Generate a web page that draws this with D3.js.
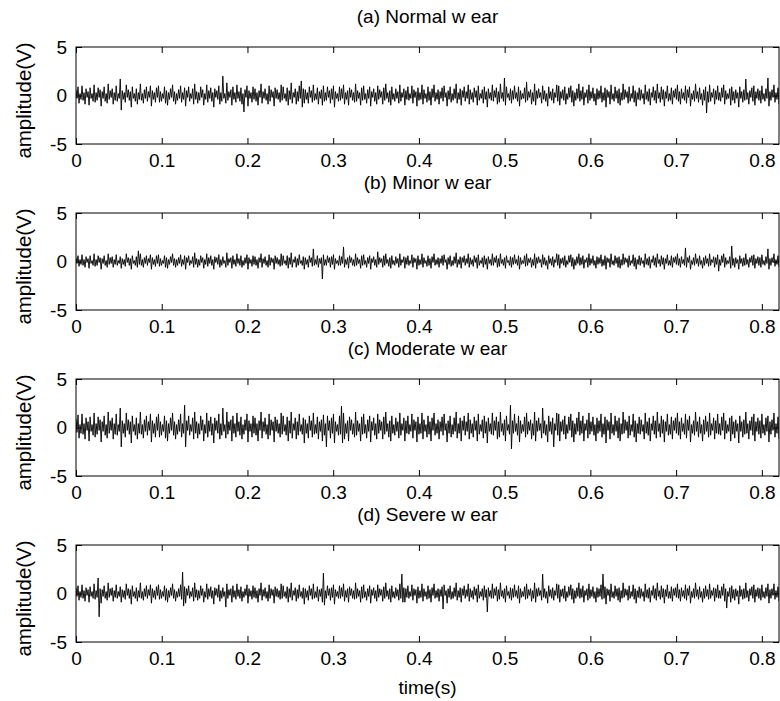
<!DOCTYPE html>
<html>
<head>
<meta charset="utf-8">
<script src="https://cdn.jsdelivr.net/npm/d3@7"></script>
<style>
  body { margin: 0; background: #fff; }
  svg text { font-family: "Liberation Sans", Arial, Helvetica, sans-serif; fill: #000; }
</style>
</head>
<body>
<svg id="chart" width="780" height="701"></svg>
<script>
// Record length in seconds; samples are evenly spaced over it
const duration = 0.82;
const xTicks = [0, 0.1, 0.2, 0.3, 0.4, 0.5, 0.6, 0.7, 0.8];
const yTicks = [-5, 0, 5];
const titles = ["(a) Normal w ear", "(b) Minor w ear", "(c) Moderate w ear", "(d) Severe w ear"];
const yLabel = "amplitude(V)";
const xLabel = "time(s)";

// Vibration amplitude (V) for each tool wear state
const normalWear = [
  0.6,-0.3,0.9,-0.8,0.2,-0.4,1.0,-0.5,0.3,-0.9,0.7,-0.2,0.4,-1.0,0.8,-0.3,0.2,-0.6,1.1,-0.7,
  0.3,-0.5,0.8,-0.2,0.6,-1.1,0.4,-0.3,0.9,-0.6,0.2,-0.8,1.2,-0.4,0.5,-0.2,0.7,-0.9,0.3,-0.5,
  1.0,-0.6,0.2,-0.3,1.7,-1.5,0.5,-0.4,0.3,-0.7,1.1,-0.2,0.6,-0.5,0.4,-1.2,0.9,-0.3,0.2,-0.6,
  0.7,-0.9,0.3,-0.4,1.2,-0.5,0.2,-0.8,0.6,-0.3,0.9,-0.6,0.4,-0.2,1.0,-1.1,0.5,-0.4,0.3,-0.7,
  0.8,-0.2,1.0,-0.7,0.4,-0.6,0.2,-0.3,0.9,-0.8,0.5,-1.0,0.3,-0.4,0.7,-0.2,1.1,-0.6,0.4,-0.9,
  0.2,-0.5,0.6,-0.3,1.0,-0.7,0.3,-0.4,0.8,-1.1,0.5,-0.2,0.9,-0.6,0.2,-0.3,0.7,-0.9,1.2,-0.4,
  0.4,-0.8,0.3,-0.5,0.9,-0.2,0.6,-1.0,0.2,-0.4,1.1,-0.7,0.5,-0.3,0.8,-0.6,0.3,-1.2,0.7,-0.2,
  0.5,-0.4,1.0,-0.9,0.3,-0.6,2.0,-0.3,0.2,-0.8,1.3,-0.5,0.4,-0.2,0.6,-1.0,0.9,-0.4,0.3,-0.7,
  1.1,-0.3,0.4,-0.6,0.8,-0.9,0.2,-1.7,0.6,-0.2,1.0,-1.1,0.5,-0.3,0.3,-0.7,0.9,-0.4,0.7,-0.6,
  0.3,-1.0,0.5,-0.2,1.2,-0.8,0.4,-0.3,0.7,-0.5,0.2,-0.9,1.0,-0.6,0.6,-0.2,0.4,-1.1,0.8,-0.3,
  0.6,-0.4,0.3,-0.7,1.1,-0.5,0.9,-0.3,0.2,-0.6,0.8,-1.0,0.5,-0.4,1.3,-0.8,0.3,-0.2,0.7,-0.9,
  0.4,-0.6,1.0,-0.3,1.5,-1.2,0.7,-0.8,0.6,-0.4,0.3,-0.8,0.9,-0.2,0.5,-0.7,1.1,-0.5,0.2,-0.4,
  0.8,-0.9,0.4,-0.3,0.6,-1.0,1.0,-0.6,0.3,-0.5,0.9,-0.2,0.5,-0.8,0.7,-0.4,1.0,-1.2,0.4,-0.3,
  0.2,-0.6,0.9,-0.5,0.7,-0.3,1.1,-0.9,0.3,-0.4,0.5,-1.0,0.8,-0.2,0.6,-0.5,0.3,-0.7,1.2,-0.6,
  0.5,-0.3,0.3,-1.0,0.8,-0.5,1.0,-0.4,0.2,-0.8,0.6,-0.3,0.9,-1.1,0.4,-0.2,0.7,-0.6,0.3,-0.9,
  1.0,-0.4,0.6,-0.2,0.4,-0.9,0.8,-0.5,1.2,-0.3,0.3,-0.7,0.5,-1.0,0.9,-0.4,0.2,-0.6,0.7,-0.3,
  0.4,-0.8,1.1,-0.6,0.3,-0.2,0.7,-1.0,0.5,-0.4,0.9,-0.5,0.2,-0.3,1.0,-0.8,0.6,-0.2,0.4,-1.1,
  0.8,-0.5,0.3,-0.4,1.1,-0.9,0.6,-0.3,0.2,-0.7,0.9,-0.5,0.4,-1.0,0.7,-0.2,1.1,-0.6,0.3,-0.4,
  0.6,-0.9,0.4,-0.3,0.8,-0.6,1.0,-0.2,0.3,-1.1,0.5,-0.4,0.9,-0.7,0.2,-0.5,0.7,-0.3,1.2,-0.8,
  0.3,-0.4,0.7,-1.0,0.5,-0.2,0.9,-0.6,0.4,-0.3,1.1,-0.9,0.6,-0.4,0.3,-0.7,0.8,-0.2,0.5,-1.0,
  1.0,-0.5,0.2,-0.3,0.6,-0.8,0.9,-0.4,0.4,-1.2,0.7,-0.3,0.3,-0.5,1.1,-0.6,0.5,-0.2,0.8,-0.9,
  0.4,-0.7,1.2,-0.3,0.3,-0.6,1.8,-1.0,0.9,-0.2,0.2,-0.5,0.7,-0.8,0.5,-0.4,1.0,-0.3,0.3,-0.6,
  0.9,-1.1,0.5,-0.4,0.2,-0.3,0.8,-0.7,1.4,-0.5,0.4,-0.2,0.6,-0.9,0.3,-0.6,1.2,-1.0,0.5,-0.3,
  0.7,-0.2,0.3,-0.8,1.0,-0.4,0.5,-0.6,0.2,-1.1,0.9,-0.3,0.4,-0.5,0.7,-0.8,0.3,-0.2,1.1,-0.6,
  1.0,-1.0,0.4,-0.3,0.6,-0.5,0.9,-0.9,0.2,-0.4,0.8,-0.2,1.0,-0.7,0.5,-1.1,0.3,-0.5,0.7,-0.3,
  1.2,-0.6,0.5,-0.4,0.9,-1.0,0.3,-0.2,0.6,-0.8,1.1,-0.5,0.4,-0.3,0.8,-0.6,0.2,-1.0,0.7,-0.4,
  0.5,-0.3,1.0,-0.7,0.3,-0.5,0.8,-1.2,0.6,-0.2,0.4,-0.9,1.1,-0.4,0.2,-0.6,0.9,-0.3,0.5,-0.8,
  0.7,-1.0,0.3,-0.5,1.2,-0.4,0.6,-0.2,0.4,-0.8,0.9,-0.6,0.2,-0.3,1.0,-0.7,0.5,-1.1,0.3,-0.4,
  0.8,-0.5,0.6,-0.3,0.2,-0.9,1.1,-0.4,0.4,-0.6,0.7,-1.0,0.3,-0.2,0.9,-0.5,0.5,-0.8,1.2,-0.3,
  0.3,-0.7,0.9,-0.4,0.6,-1.1,0.4,-0.3,1.0,-0.6,0.2,-0.5,0.8,-0.9,0.5,-0.2,0.7,-0.4,1.1,-0.6,
  0.4,-0.9,0.7,-0.3,0.3,-0.5,1.0,-0.8,0.6,-0.2,0.9,-1.1,0.2,-0.4,0.5,-0.6,1.2,-0.3,0.4,-0.7,
  0.8,-0.4,0.2,-1.0,0.6,-0.5,0.9,-1.8,0.4,-0.7,1.1,-0.6,0.3,-0.2,0.7,-0.9,0.5,-0.4,1.0,-0.5,
  0.3,-0.6,0.8,-0.2,1.1,-0.9,0.5,-0.4,0.2,-0.3,0.7,-1.0,0.9,-0.5,0.4,-0.8,0.6,-0.3,0.3,-1.2,
  0.9,-0.3,0.4,-0.7,0.6,-0.5,1.7,-0.4,0.3,-0.9,0.5,-0.2,0.8,-0.6,1.0,-1.0,0.4,-0.3,0.7,-0.5,
  0.5,-0.8,1.0,-0.4,0.2,-0.6,0.7,-0.3,1.8,-1.1,0.4,-0.5,0.6,-0.2,1.1,-0.7,0.3,-0.4,0.8,-0.9
];
const minorWear = [
  0.4,-0.2,0.6,-0.5,0.2,-0.3,0.7,-0.4,0.2,-0.6,0.5,-0.1,0.3,-0.7,0.6,-0.2,0.1,-0.4,0.8,-0.5,
  0.2,-0.4,0.6,-0.1,0.4,-0.8,0.3,-0.2,0.6,-0.4,0.1,-0.6,0.8,-0.3,0.4,-0.2,0.5,-0.6,0.2,-0.3,
  0.7,-0.4,0.1,-0.2,0.5,-0.7,0.3,-0.3,0.2,-0.5,0.8,-0.1,0.4,-0.4,0.3,-0.8,0.6,-0.2,0.1,-0.4,
  0.5,-0.6,1.1,-0.3,0.8,-0.4,0.2,-0.6,0.4,-0.2,0.6,-0.4,0.3,-0.1,0.7,-0.8,0.4,-0.3,0.2,-0.5,
  0.6,-0.2,0.7,-0.5,0.3,-0.4,0.1,-0.2,0.6,-0.6,0.4,-0.7,0.2,-0.3,0.5,-0.1,0.8,-0.4,0.3,-0.6,
  0.2,-0.4,0.4,-0.2,0.7,-0.5,0.2,-0.3,0.6,-0.8,0.4,-0.1,0.6,-0.4,0.1,-0.2,0.5,-0.6,0.9,-0.3,
  0.3,-0.6,0.2,-0.4,0.6,-0.1,0.4,-0.7,0.2,-0.3,0.8,-0.5,0.4,-0.2,0.6,-0.4,0.2,-0.8,0.5,-0.1,
  0.4,-0.3,0.7,-0.6,0.2,-0.4,0.5,-0.2,0.1,-0.6,0.9,-0.4,0.3,-0.1,0.4,-0.7,0.6,-0.3,0.2,-0.5,
  0.8,-0.2,0.3,-0.4,0.6,-0.6,0.1,-0.4,0.4,-0.2,0.7,-0.8,0.4,-0.2,0.2,-0.5,0.6,-0.3,0.5,-0.4,
  0.2,-0.7,0.4,-0.1,0.8,-0.6,0.3,-0.2,0.5,-0.4,0.1,-0.6,0.7,-0.4,0.4,-0.1,0.3,-0.8,0.6,-0.2,
  0.4,-0.3,0.2,-0.5,0.8,-0.4,0.6,-0.2,0.1,-0.4,0.6,-0.7,0.4,-0.3,0.9,-0.6,0.2,-0.1,0.5,-0.6,
  0.3,-0.4,0.7,-0.2,0.1,-0.4,0.5,-0.8,0.4,-0.3,0.2,-0.6,0.6,-0.1,0.4,-0.5,1.3,-0.4,0.2,-0.3,
  0.6,-0.6,0.3,-0.2,0.4,-1.8,0.7,-0.4,0.2,-0.4,0.6,-0.1,0.4,-0.6,0.5,-0.3,0.7,-0.8,0.3,-0.2,
  0.1,-0.4,0.6,-0.4,0.5,-0.2,1.5,-0.6,0.2,-0.3,0.4,-0.7,0.6,-0.1,0.4,-0.4,0.2,-0.5,0.8,-0.4,
  0.4,-0.2,0.2,-0.7,0.6,-0.4,0.7,-0.3,0.1,-0.6,0.4,-0.2,0.6,-0.8,0.3,-0.1,0.5,-0.4,0.2,-0.6,
  1.0,-0.3,0.4,-0.1,0.3,-0.6,0.6,-0.4,0.8,-0.2,0.2,-0.5,0.4,-0.7,0.6,-0.3,0.1,-0.4,0.5,-0.2,
  0.3,-0.6,0.8,-0.4,0.2,-0.1,0.5,-0.7,0.4,-0.3,0.6,-0.4,0.1,-0.2,0.7,-0.6,0.4,-0.1,0.3,-0.8,
  0.6,-0.4,0.2,-0.3,0.8,-0.6,0.4,-0.2,0.1,-0.5,0.6,-0.4,0.3,-0.7,0.5,-0.1,0.8,-0.4,0.2,-0.3,
  0.4,-0.6,0.3,-0.2,0.6,-0.4,0.7,-0.1,0.2,-0.8,0.4,-0.3,0.6,-0.5,0.1,-0.4,0.5,-0.2,0.9,-0.6,
  0.2,-0.3,0.5,-0.7,0.4,-0.1,0.6,-0.4,0.3,-0.2,0.8,-0.6,0.4,-0.3,0.2,-0.5,0.6,-0.1,0.4,-0.7,
  0.7,-0.4,0.1,-0.2,0.4,-0.6,0.6,-0.3,0.3,-0.8,0.5,-0.2,0.2,-0.4,0.8,-0.4,0.4,-0.1,0.6,-0.6,
  0.3,-0.5,0.8,-0.2,0.2,-0.4,0.4,-0.7,0.6,-0.1,0.1,-0.4,0.5,-0.6,0.4,-0.3,0.7,-0.2,0.2,-0.4,
  0.6,-0.8,0.4,-0.3,0.1,-0.2,0.6,-0.5,0.8,-0.4,0.3,-0.1,0.4,-0.6,0.2,-0.4,0.8,-0.7,0.4,-0.2,
  0.5,-0.1,0.2,-0.6,0.7,-0.3,0.4,-0.4,0.1,-0.8,0.6,-0.2,0.3,-0.4,0.5,-0.6,0.2,-0.1,0.8,-0.4,
  0.7,-0.7,0.3,-0.2,0.4,-0.4,0.6,-0.6,0.1,-0.3,0.6,-0.1,0.7,-0.5,0.4,-0.8,0.2,-0.4,0.5,-0.2,
  0.8,-0.4,0.4,-0.3,0.6,-0.7,0.2,-0.1,0.4,-0.6,0.8,-0.4,0.3,-0.2,0.6,-0.4,0.1,-0.7,0.5,-0.3,
  0.4,-0.2,0.7,-0.5,0.2,-0.4,0.6,-0.8,0.4,-0.1,0.3,-0.6,0.8,-0.3,0.1,-0.4,0.6,-0.2,0.4,-0.6,
  0.5,-0.7,0.2,-0.4,0.8,-0.3,0.4,-0.1,0.3,-0.6,0.6,-0.4,0.1,-0.2,0.7,-0.5,0.4,-0.8,0.2,-0.3,
  0.6,-0.4,0.4,-0.2,0.1,-0.6,0.8,-0.3,0.3,-0.4,0.5,-0.7,0.2,-0.1,0.6,-0.4,0.4,-0.6,0.8,-0.2,
  0.2,-0.5,0.6,-0.3,0.4,-0.8,0.3,-0.2,0.7,-0.4,0.1,-0.4,0.6,-0.6,0.4,-0.1,0.5,-0.3,0.8,-0.4,
  0.3,-0.6,0.5,-0.2,0.2,-0.4,1.4,-0.6,0.4,-0.1,0.6,-0.8,0.1,-0.3,0.4,-0.4,0.8,-0.2,0.3,-0.5,
  0.6,-0.3,0.1,-0.7,0.4,-0.4,0.6,-0.2,0.3,-0.5,0.8,-0.4,0.2,-0.1,0.5,-0.6,0.4,-0.3,0.7,-1.0,
  0.2,-0.4,0.6,-0.1,0.8,-0.6,0.4,-0.3,0.1,-0.2,0.5,-0.7,1.6,-0.4,0.3,-0.6,0.4,-0.2,0.2,-0.8,
  0.6,-0.2,0.3,-0.5,0.4,-0.4,0.8,-0.3,0.2,-0.6,0.4,-0.1,0.6,-0.4,0.7,-0.7,0.3,-0.2,0.5,-0.4,
  0.4,-0.6,0.7,-0.3,0.1,-0.4,0.5,-0.2,1.3,-0.8,0.3,-0.4,0.4,-0.1,0.8,-0.5,0.2,-0.3,0.6,-0.6
];
const moderateWear = [
  0.9,-0.5,1.3,-1.1,0.3,-0.6,1.4,-0.7,0.4,-1.2,1.0,-0.3,0.6,-1.4,1.1,-0.4,0.3,-0.8,1.5,-1.0,
  0.4,-0.7,1.1,-0.3,0.8,-1.5,0.6,-0.4,1.2,-0.8,0.3,-1.1,1.6,-0.6,0.7,-0.3,1.0,-1.2,0.4,-0.7,
  1.4,-0.8,0.3,-0.4,2.0,-2.0,0.7,-0.6,0.4,-1.0,1.5,-0.3,0.8,-0.7,0.6,-1.6,1.2,-0.4,0.3,-0.8,
  1.0,-1.2,0.4,-0.6,1.6,-0.7,0.3,-1.1,0.8,-0.4,1.2,-0.8,0.6,-0.3,1.4,-1.5,0.7,-0.6,0.4,-1.0,
  1.1,-0.3,1.4,-1.0,0.6,-0.8,0.3,-0.4,1.2,-1.1,0.7,-1.4,0.4,-0.6,1.0,-0.3,1.5,-0.8,0.6,-1.2,
  0.3,-0.7,0.8,-0.4,1.4,-1.0,0.4,-0.6,2.3,-2.0,0.7,-0.3,1.2,-0.8,0.3,-0.4,1.0,-1.2,1.6,-0.6,
  0.6,-1.1,0.4,-0.7,1.2,-0.3,0.8,-1.4,0.3,-0.6,1.5,-1.0,0.7,-0.4,1.1,-0.8,0.4,-1.6,1.0,-0.3,
  0.7,-0.6,1.4,-1.2,0.4,-0.8,2.0,-0.4,0.3,-1.1,1.6,-0.7,0.6,-0.3,0.8,-1.4,1.2,-0.6,0.4,-1.0,
  1.5,-0.4,0.6,-0.8,1.1,-1.2,0.3,-0.7,0.8,-0.3,1.4,-1.5,0.7,-0.4,0.4,-1.0,1.2,-0.6,1.0,-0.8,
  0.4,-1.4,0.7,-0.3,1.6,-1.1,0.6,-0.4,1.0,-0.7,0.3,-1.2,1.4,-0.8,0.8,-0.3,0.6,-1.5,1.1,-0.4,
  0.8,-0.6,0.4,-1.0,1.5,-0.7,1.2,-0.4,0.3,-0.8,1.1,-1.4,0.7,-0.6,1.6,-1.1,0.4,-0.3,1.0,-1.2,
  0.6,-0.8,1.4,-0.4,0.3,-0.7,1.0,-1.6,0.8,-0.6,0.4,-1.1,1.2,-0.3,0.7,-1.0,1.5,-0.7,0.3,-0.6,
  1.1,-1.2,0.6,-0.4,0.8,-1.4,1.3,-0.8,0.4,-2.0,1.2,-0.3,0.7,-1.1,1.0,-0.6,1.4,-1.6,0.6,-0.4,
  0.3,-0.8,1.2,-0.7,2.2,-1.6,1.5,-1.2,0.4,-0.6,0.7,-1.4,1.1,-0.3,0.8,-0.7,0.4,-1.0,1.6,-0.8,
  0.7,-0.4,0.4,-1.4,1.1,-0.7,1.4,-0.6,0.3,-1.1,0.8,-0.4,1.2,-1.5,0.6,-0.3,1.0,-0.8,0.4,-1.2,
  1.4,-0.6,0.8,-0.3,0.6,-1.2,1.1,-0.7,1.6,-0.4,0.4,-1.0,0.7,-1.4,1.2,-0.6,0.3,-0.8,1.0,-0.4,
  0.6,-1.1,1.5,-0.8,0.4,-0.3,1.0,-1.4,0.7,-0.6,1.2,-0.7,0.3,-0.4,1.4,-1.1,0.8,-0.3,0.6,-1.5,
  1.1,-0.7,0.4,-0.6,1.5,-1.2,0.8,-0.4,0.3,-1.0,1.2,-0.7,0.6,-1.4,1.0,-0.3,1.5,-0.8,0.4,-0.6,
  0.8,-1.2,0.6,-0.4,1.1,-0.8,1.4,-0.3,0.4,-1.5,0.7,-0.6,1.2,-1.0,0.3,-0.7,1.0,-0.4,1.6,-1.1,
  0.4,-0.6,1.0,-1.4,0.7,-0.3,1.2,-0.8,0.6,-0.4,1.5,-1.2,0.8,-0.6,0.4,-1.0,1.1,-0.3,0.7,-1.4,
  1.4,-0.7,0.3,-0.4,0.8,-1.1,1.2,-0.6,0.6,-1.6,1.0,-0.4,0.4,-0.7,1.5,-0.8,0.7,-0.3,1.1,-1.2,
  0.6,-1.0,1.6,-0.4,0.4,-0.8,0.8,-1.4,1.2,-0.3,0.3,-0.7,2.3,-2.2,0.7,-0.6,1.4,-0.4,0.4,-0.8,
  1.2,-1.5,0.7,-0.6,0.3,-0.4,1.1,-1.0,1.5,-0.7,0.6,-0.3,0.8,-1.2,0.4,-0.8,1.6,-1.4,0.7,-0.4,
  1.0,-0.3,0.4,-1.1,2.0,-0.6,0.7,-0.8,0.3,-1.5,1.2,-0.4,0.6,-0.7,1.0,-2.0,0.4,-0.3,1.5,-0.8,
  1.4,-1.4,0.6,-0.4,0.8,-0.7,1.2,-1.2,0.3,-0.6,1.1,-0.3,1.4,-1.0,0.7,-1.5,0.4,-0.7,1.0,-0.4,
  1.6,-0.8,0.7,-0.6,1.2,-1.4,0.4,-0.3,0.8,-1.1,1.5,-0.7,0.6,-0.4,1.1,-0.8,0.3,-1.4,1.0,-0.6,
  0.7,-0.4,1.4,-1.0,0.4,-0.7,1.1,-1.6,0.8,-0.3,0.6,-1.2,1.5,-0.6,0.3,-0.8,1.2,-0.4,0.7,-1.1,
  1.0,-1.4,0.4,-0.7,1.6,-0.6,0.8,-0.3,0.6,-1.1,1.2,-0.8,0.3,-0.4,1.4,-1.0,0.7,-1.5,0.4,-0.6,
  1.1,-0.7,0.8,-0.4,0.3,-1.2,1.5,-0.6,0.6,-0.8,1.0,-1.4,0.4,-0.3,1.2,-0.7,0.7,-1.1,1.6,-0.4,
  0.4,-1.0,1.2,-0.6,0.8,-1.5,0.6,-0.4,1.4,-0.8,0.3,-0.7,1.1,-1.2,0.7,-0.3,1.0,-0.6,1.5,-0.8,
  0.6,-1.2,1.0,-0.4,0.4,-0.7,1.4,-1.1,0.8,-0.3,1.2,-1.5,0.3,-0.6,0.7,-0.8,1.6,-0.4,0.6,-1.0,
  1.1,-0.6,0.3,-1.4,0.8,-0.7,1.2,-0.4,0.6,-1.0,1.5,-0.8,0.4,-0.3,1.0,-1.2,0.7,-0.6,1.4,-0.7,
  0.4,-0.8,1.1,-0.3,1.5,-1.2,0.7,-0.6,0.3,-0.4,1.0,-1.4,1.2,-0.7,0.6,-1.1,0.8,-0.4,0.4,-1.6,
  1.2,-0.4,0.6,-1.0,0.8,-0.7,1.6,-0.6,0.4,-1.2,0.7,-0.3,1.1,-0.8,1.4,-1.4,0.6,-0.4,1.0,-0.7,
  0.7,-1.1,1.4,-0.6,0.3,-0.8,1.0,-0.4,1.2,-1.5,0.6,-0.7,0.8,-0.3,1.5,-1.0,0.4,-0.6,1.1,-1.2
];
const severeWear = [
  0.6,-0.3,0.8,-0.7,0.2,-0.4,0.9,-0.5,0.3,-0.8,0.6,-0.2,0.4,-0.9,0.7,-0.3,0.2,-0.5,1.0,-0.6,
  0.3,-0.4,1.6,-2.4,0.5,-1.0,0.4,-0.3,0.8,-0.5,0.2,-0.7,1.1,-0.4,0.5,-0.2,0.6,-0.8,0.3,-0.4,
  0.9,-0.5,0.2,-0.3,0.7,-0.9,0.4,-0.4,0.3,-0.6,1.0,-0.2,0.5,-0.5,0.4,-1.1,0.8,-0.3,0.2,-0.5,
  0.6,-0.8,0.3,-0.4,1.1,-0.5,0.2,-0.7,0.5,-0.3,0.8,-0.5,0.4,-0.2,0.9,-1.0,0.5,-0.4,0.3,-0.6,
  0.7,-0.2,0.9,-0.6,0.4,-0.5,0.2,-0.3,0.8,-0.7,0.5,-0.9,0.3,-0.4,0.6,-0.2,1.0,-0.5,0.4,-0.8,
  0.2,-0.4,0.5,-0.3,0.9,-0.6,2.2,-1.3,0.7,-1.0,0.5,-0.2,0.8,-0.5,0.2,-0.3,0.6,-0.8,1.1,-0.4,
  0.4,-0.7,0.3,-0.5,0.8,-0.2,0.5,-0.9,0.2,-0.4,1.0,-0.6,0.5,-0.3,0.7,-0.5,0.3,-1.1,0.6,-0.2,
  0.5,-0.4,0.9,-0.8,0.3,-0.5,0.6,-0.3,0.2,-1.4,1.0,-0.5,0.4,-0.2,0.5,-0.9,0.8,-0.4,0.3,-0.6,
  1.0,-0.3,0.4,-0.5,0.7,-0.8,0.2,-0.4,0.5,-0.2,0.9,-1.0,0.5,-0.3,0.3,-0.6,0.8,-0.4,0.6,-0.5,
  0.3,-0.9,0.5,-0.2,1.1,-0.7,0.4,-0.3,0.6,-0.5,0.2,-0.8,0.9,-0.5,0.5,-0.2,0.4,-1.0,0.7,-0.3,
  0.5,-0.4,0.3,-0.6,1.0,-0.5,0.8,-0.3,0.2,-0.5,0.7,-0.9,0.5,-0.4,1.1,-0.7,0.3,-0.2,0.6,-0.8,
  0.4,-0.5,0.9,-0.3,0.2,-0.5,0.6,-1.1,0.5,-0.4,0.3,-0.7,0.8,-0.2,0.5,-0.6,1.0,-0.5,0.2,-0.4,
  0.7,-0.8,0.4,-0.3,0.5,-0.9,2.1,-1.2,0.3,-0.5,0.8,-0.2,0.5,-0.7,0.6,-0.4,0.9,-1.1,0.4,-0.3,
  0.2,-0.5,0.8,-0.5,0.6,-0.3,1.0,-0.8,0.3,-0.4,0.5,-0.9,0.7,-0.2,0.5,-0.5,0.3,-0.6,1.1,-0.5,
  0.5,-0.3,0.3,-0.9,0.7,-0.5,0.9,-0.4,0.2,-0.7,0.5,-0.3,0.8,-1.0,0.4,-0.2,0.6,-0.5,0.3,-0.8,
  0.9,-0.4,0.5,-0.2,0.4,-0.8,0.7,-0.5,1.1,-0.3,0.3,-0.6,0.5,-0.9,0.8,-0.4,0.2,-0.5,0.6,-0.3,
  0.4,-0.7,1.0,-0.5,2.0,-0.9,0.6,-0.9,0.5,-0.4,0.8,-0.5,0.2,-0.3,0.9,-0.7,0.5,-0.2,0.4,-1.0,
  0.7,-0.5,0.3,-0.4,1.0,-0.8,0.5,-0.3,0.2,-0.6,0.8,-0.5,0.4,-0.9,0.6,-0.2,1.0,-0.5,0.3,-0.4,
  0.5,-0.8,0.4,-0.3,0.7,-1.6,0.9,-0.2,0.3,-1.0,0.5,-0.4,0.8,-0.6,0.2,-0.5,0.6,-0.3,1.1,-0.7,
  0.3,-0.4,0.6,-0.9,0.5,-0.2,0.8,-0.5,0.4,-0.3,1.0,-0.8,0.5,-0.4,0.3,-0.6,0.7,-0.2,0.5,-0.9,
  0.9,-0.5,0.2,-0.3,0.5,-0.7,0.8,-0.4,0.4,-1.9,0.6,-0.3,0.3,-0.5,1.0,-0.5,0.5,-0.2,0.7,-0.8,
  0.4,-0.6,1.1,-0.3,0.3,-0.5,0.5,-0.9,0.8,-0.2,0.2,-0.5,0.6,-0.7,0.5,-0.4,0.9,-0.3,0.3,-0.5,
  0.8,-1.0,0.5,-0.4,0.2,-0.3,0.7,-0.6,1.0,-0.5,0.4,-0.2,0.5,-0.8,0.3,-0.5,1.1,-0.9,0.5,-0.3,
  0.6,-0.2,0.3,-0.7,2.0,-0.4,0.5,-0.5,0.2,-1.0,0.8,-0.3,0.4,-0.5,0.6,-0.7,0.3,-0.2,1.0,-0.5,
  0.9,-0.9,0.4,-0.3,0.5,-0.5,0.8,-0.8,0.2,-0.4,0.7,-0.2,0.9,-0.6,0.5,-1.0,0.3,-0.5,0.6,-0.3,
  1.1,-0.5,0.5,-0.4,0.8,-0.9,0.3,-0.2,0.5,-0.7,1.0,-0.5,0.4,-0.3,0.7,-0.5,0.2,-0.9,0.6,-0.4,
  0.5,-0.3,0.9,-0.6,2.0,-0.5,0.7,-1.1,0.5,-0.2,0.4,-0.8,1.0,-0.4,0.2,-0.5,0.8,-0.3,0.5,-0.7,
  0.6,-0.9,0.3,-0.5,1.1,-0.4,0.5,-0.2,0.4,-0.7,0.8,-0.5,0.2,-0.3,0.9,-0.6,0.5,-1.0,0.3,-0.4,
  0.7,-0.5,0.5,-0.3,0.2,-0.8,1.0,-0.4,0.4,-0.5,0.6,-0.9,0.3,-0.2,0.8,-0.5,0.5,-0.7,1.1,-0.3,
  0.3,-0.6,0.8,-0.4,0.5,-1.0,0.4,-0.3,0.9,-0.5,0.2,-0.5,0.7,-0.8,0.5,-0.2,0.6,-0.4,1.0,-0.5,
  0.4,-0.8,0.6,-0.3,0.3,-0.5,0.9,-0.7,0.5,-0.2,0.8,-1.0,0.2,-0.4,0.5,-0.5,1.1,-0.3,0.4,-0.6,
  0.7,-0.4,0.2,-0.9,0.5,-0.5,0.8,-0.3,0.4,-0.6,1.0,-0.5,0.3,-0.2,0.6,-0.8,0.5,-0.4,0.9,-0.5,
  0.3,-0.5,0.7,-0.2,1.0,-0.8,0.5,-1.5,0.2,-0.3,0.6,-0.9,0.8,-0.5,0.4,-0.7,0.5,-0.3,0.3,-1.1,
  0.8,-0.3,0.4,-0.6,0.5,-0.5,1.1,-0.4,0.3,-0.8,0.5,-0.2,0.7,-0.5,0.9,-0.9,0.4,-0.3,0.6,-0.5,
  0.5,-0.7,0.9,-0.4,0.2,-0.5,0.6,-0.3,1.0,-1.0,0.4,-0.5,0.5,-0.2,1.0,-0.6,0.3,-0.4,0.7,-0.8
];

const series = [normalWear, minorWear, moderateWear, severeWear];

// Layout
const plotLeft = 76, plotRight = 779;
const panelTops = [47, 213, 379, 545];
const panelHeight = 97;
const tickLen = 6;
const fontSize = 19;
const yLabelSize = 20.5;

const svg = d3.select("#chart");
svg.append("rect").attr("width", 780).attr("height", 701).attr("fill", "#fff");

const x = d3.scaleLinear().domain([0, duration]).range([plotLeft, plotRight]);
const fmt = d => String(d);

series.forEach((values, p) => {
  const top = panelTops[p];
  const bottom = top + panelHeight;
  const y = d3.scaleLinear().domain([-5, 5]).range([bottom, top]);
  const dt = duration / (values.length - 1);
  const g = svg.append("g");

  const clipId = "clip" + p;
  svg.append("clipPath").attr("id", clipId)
    .append("rect").attr("x", plotLeft).attr("y", top)
    .attr("width", plotRight - plotLeft).attr("height", panelHeight);

  // Signal trace
  const line = d3.line().x((d, i) => x(i * dt)).y(d => y(d));
  g.append("path")
    .datum(values)
    .attr("clip-path", `url(#${clipId})`)
    .attr("d", line)
    .attr("fill", "none")
    .attr("stroke", "#000")
    .attr("stroke-width", 0.9)
    .attr("stroke-linejoin", "bevel");

  // Axes with inward ticks on all four sides
  const axB = g.append("g").attr("transform", `translate(0,${bottom})`)
    .call(d3.axisBottom(x).tickValues(xTicks).tickFormat(fmt).tickSizeInner(-tickLen).tickSizeOuter(0).tickPadding(10));
  const axT = g.append("g").attr("transform", `translate(0,${top})`)
    .call(d3.axisTop(x).tickValues(xTicks).tickFormat("").tickSizeInner(-tickLen).tickSizeOuter(0));
  const axL = g.append("g").attr("transform", `translate(${plotLeft},0)`)
    .call(d3.axisLeft(y).tickValues(yTicks).tickFormat(fmt).tickSizeInner(-tickLen).tickSizeOuter(0).tickPadding(9));
  const axR = g.append("g").attr("transform", `translate(${plotRight},0)`)
    .call(d3.axisRight(y).tickValues(yTicks).tickFormat("").tickSizeInner(-tickLen).tickSizeOuter(0));
  [axB, axT, axL, axR].forEach(a => {
    a.select(".domain").remove();
    a.selectAll("line").attr("stroke", "#000");
    a.selectAll("text").attr("font-size", fontSize).attr("font-family", null);
  });

  // Frame
  g.append("rect")
    .attr("x", plotLeft).attr("y", top)
    .attr("width", plotRight - plotLeft).attr("height", panelHeight)
    .attr("fill", "none").attr("stroke", "#000").attr("stroke-width", 1);

  // Title
  g.append("text")
    .attr("x", (plotLeft + plotRight) / 2).attr("y", top - 24)
    .attr("text-anchor", "middle").attr("font-size", fontSize)
    .text(titles[p]);

  // Y label
  g.append("text")
    .attr("transform", `translate(31,${top + panelHeight / 2 + 5}) rotate(-90)`)
    .attr("text-anchor", "middle").attr("font-size", yLabelSize)
    .text(yLabel);
});

svg.append("text")
  .attr("x", (plotLeft + plotRight) / 2).attr("y", 694)
  .attr("text-anchor", "middle").attr("font-size", fontSize)
  .text(xLabel);
</script>
</body>
</html>
